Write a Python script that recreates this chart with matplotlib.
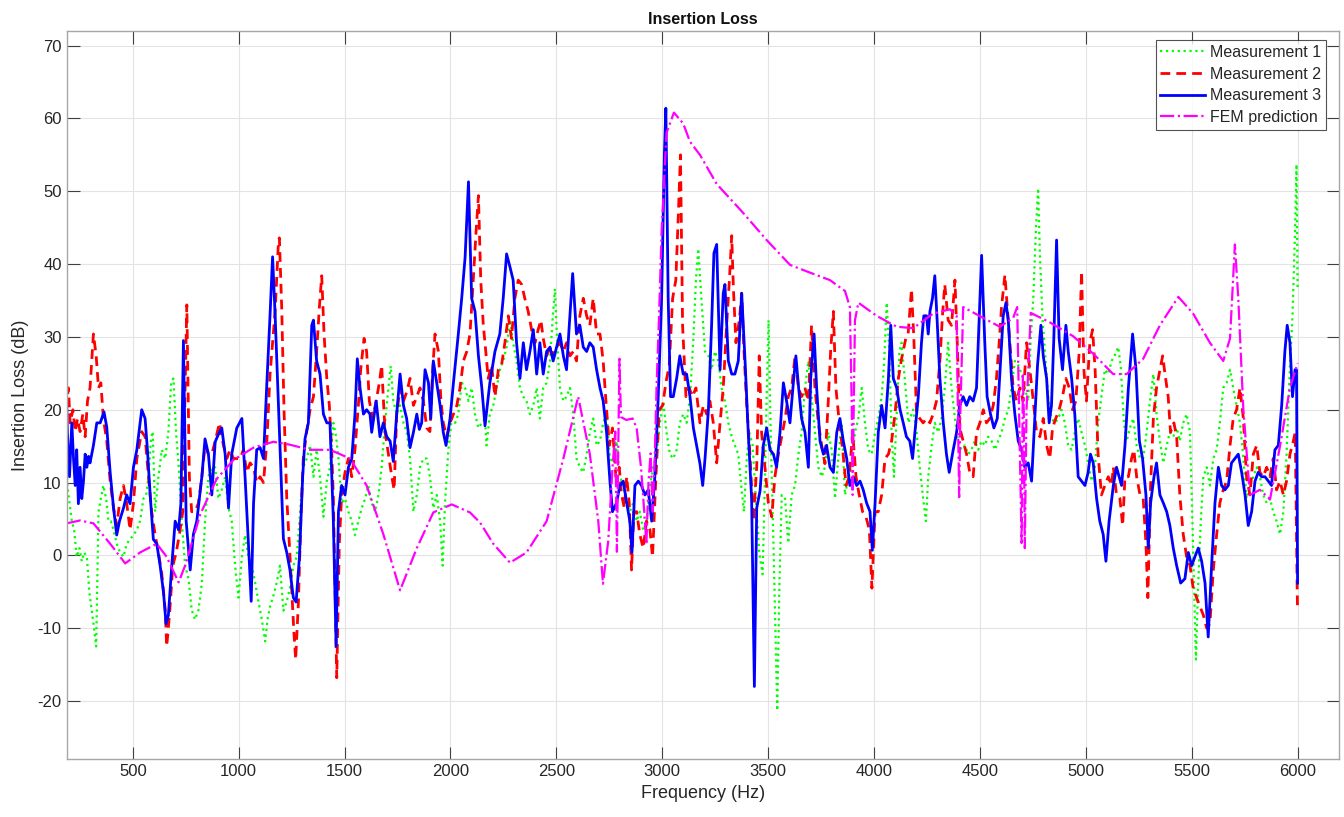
import matplotlib
matplotlib.use("Agg")
import matplotlib.pyplot as plt
import numpy as np

plt.rcParams['font.family'] = ['Liberation Sans', 'DejaVu Sans']
plt.rcParams['axes.unicode_minus'] = False

# ---------------- data ----------------
f_m1 = [185, 191, 201, 212, 223, 235, 248, 259, 270, 283, 295, 306, 317, 327, 338, 349, 361, 374, 385, 396,
        409, 424, 440, 456, 471, 487, 503, 519, 534, 550, 563, 574, 585, 594, 605, 621, 637, 653, 668, 681,
        692, 704, 717, 731, 747, 763, 778, 794, 810, 826, 841, 857, 873, 889, 904, 920, 936, 952, 967, 983,
        999, 1015, 1030, 1046, 1062, 1078, 1093, 1109, 1125, 1136, 1148, 1164, 1179, 1195, 1211, 1227, 1242,
        1258, 1274, 1290, 1305, 1321, 1337, 1353, 1368, 1384, 1400, 1416, 1431, 1447, 1460, 1471, 1486, 1502,
        1518, 1534, 1549, 1565, 1581, 1597, 1612, 1628, 1644, 1660, 1675, 1691, 1707, 1718, 1730, 1746, 1762,
        1778, 1793, 1809, 1825, 1841, 1856, 1872, 1888, 1903, 1919, 1935, 1951, 1963, 1974, 1990, 2006, 2022,
        2037, 2053, 2069, 2085, 2100, 2116, 2132, 2148, 2163, 2170, 2186, 2202, 2218, 2233, 2249, 2265, 2281,
        2296, 2312, 2328, 2344, 2359, 2375, 2391, 2407, 2422, 2438, 2454, 2470, 2482, 2493, 2504, 2517, 2533,
        2548, 2564, 2580, 2595, 2611, 2627, 2643, 2658, 2674, 2690, 2706, 2721, 2737, 2753, 2769, 2784, 2800,
        2816, 2832, 2847, 2863, 2879, 2894, 2910, 2926, 2942, 2957, 2973, 2989, 3005, 3020, 3036, 3052, 3068,
        3083, 3099, 3115, 3131, 3146, 3159, 3170, 3186, 3202, 3218, 3233, 3249, 3265, 3280, 3296, 3312, 3328,
        3343, 3359, 3375, 3386, 3399, 3411, 3427, 3443, 3458, 3474, 3485, 3493, 3502, 3512, 3525, 3537, 3543,
        3553, 3564, 3580, 3595, 3611, 3627, 3643, 3658, 3674, 3690, 3705, 3721, 3737, 3753, 3768, 3784, 3800,
        3816, 3831, 3847, 3863, 3879, 3894, 3910, 3926, 3942, 3957, 3973, 3989, 4005, 4020, 4036, 4047, 4060,
        4072, 4083, 4094, 4107, 4120, 4130, 4146, 4162, 4185, 4201, 4216, 4232, 4245, 4256, 4272, 4287, 4303,
        4319, 4334, 4350, 4366, 4382, 4397, 4413, 4429, 4445, 4460, 4476, 4492, 4508, 4523, 4539, 4555, 4571,
        4586, 4602, 4618, 4634, 4649, 4665, 4681, 4697, 4712, 4728, 4739, 4752, 4764, 4775, 4783, 4796, 4807,
        4822, 4838, 4854, 4870, 4886, 4901, 4917, 4933, 4948, 4964, 4980, 4996, 5011, 5027, 5043, 5058, 5074,
        5090, 5106, 5122, 5137, 5153, 5165, 5180, 5193, 5208, 5224, 5240, 5256, 5271, 5287, 5303, 5319, 5334,
        5350, 5366, 5382, 5397, 5413, 5429, 5444, 5460, 5476, 5492, 5505, 5520, 5530, 5543, 5555, 5571, 5586,
        5602, 5618, 5633, 5649, 5665, 5681, 5696, 5712, 5728, 5744, 5759, 5775, 5791, 5807, 5822, 5838, 5854,
        5870, 5885, 5901, 5917, 5933, 5948, 5964, 5976, 5988, 5995, 6000]
il_m1 = [13.9, 9.6, 7.2, 4.7, 3.5, -0.2, 1, -0.8, 0.4, -0.2, -5.1, -7.6, -10, -12.5, 6, 7.8, 9.6, 7.8, 4.7, 4.7,
         3.5, 1.6, 0.4, -0.2, 1.6, 2.2, 2.8, 3.5, 4.7, 7.8, 8.3, 10.8, 15.7, 17, 6, 10.8, 14.5, 13.3, 17, 23.7,
         24.3, 17, 12.1, 4.7, -1.4, -3.2, -7.5, -8.8, -7.5, -3.8, 4.7, 10.8, 12.1, 12.1, 7.8, 9, 10.8, 6.5, 4.7, -1.4,
         -5.8, -0.2, 2.8, -0.2, -1.4, -3.8, -6.3, -8.8, -11.8, -8.8, -7, -5.5, -3.8, -1.4, -7.6, -6.3, -4.5,
         -1.4, -0.2, 6, 12.1, 13.3, 15.1, 10.8, 14.5, 10.8, 5.3, 10.2, 12.1, 18.2, 16.3, 13.3, 7.2, 7.8,
         6, 4.7, 2.8, 4.7, 6.5, 7.8, 9.6, 7.2, 6, 8.3, 12.1, 18.2, 23, 26, 21.2, 19.4, 20.6,
         18.2, 17, 13.3, 6, 8.3, 12.1, 13.3, 13.3, 10.8, 6.5, 8.3, 4.7, -1.4, 7.2, 14.5, 18.8, 18.2,
         19.4, 23.7, 23, 21.2, 23, 19.4, 17.5, 18.2, 18.8, 15.1, 19.4, 20.6, 23, 25.5, 26.7, 28.6, 32.3,
         29.2, 26.7, 23, 21.8, 21.2, 19.4, 20.6, 23, 18.8, 23, 23.7, 26.7, 32.3, 36.6, 29.2, 23, 21.2,
         21.8, 23, 19.4, 13.3, 12.1, 11.4, 13.9, 16.9, 18.8, 15.1, 15.7, 18.2, 19.4, 13.3, 12.7, 15.7, 10.8,
         9.6, 7.2, 6, 7.2, 4.7, 6, 3.5, 4.7, 9.6, 12.1, 13.9, 18.2, 21.2, 16.9, 13.9, 13.3, 14.5,
         18.2, 19.4, 18.2, 21.8, 29.2, 37.8, 42.1, 34.7, 28, 27.4, 25.5, 28, 26.7, 23, 21.2, 18.2, 16.3,
         15.1, 13.9, 8.9, 6, 13.3, 16.9, 15.1, 7.2, 0.4, -2.6, 10.8, 21.8, 32.3, 16.9, 1.7, -13.7, -21.3,
         -4.5, 8.3, 7.8, 1.7, 8.3, 9.6, 13.9, 16.9, 23, 26.7, 21.8, 16.9, 12.1, 10.8, 12.1, 16.9, 14.5,
         7.8, 13.3, 18.2, 8.3, 10.8, 12.1, 16.9, 18.8, 23, 18.2, 14.5, 13.9, 16.9, 18.8, 21.8, 26.1, 34.7,
         28, 16.9, 10.8, 19.4, 28, 29.2, 24, 18.2, 20, 16.9, 12.1, 7.8, 4.7, 10.8, 15.1, 18.2, 16.9,
         18.8, 23, 29.2, 23, 18.8, 15.7, 14.5, 15.1, 13.9, 14.5, 15.7, 14.5, 15.7, 15.1, 16.3, 15.7, 14.5,
         15.7, 16.9, 18.8, 20, 23, 26.7, 26.1, 24.9, 23, 21.2, 29.2, 35.3, 44.5, 50.4, 41.5, 32.3, 28,
         21.8, 18.8, 18.2, 18.8, 20, 18.2, 15.1, 14.5, 16.9, 18.8, 16.9, 15.1, 12.7, 10.2, 12.1, 18.2, 21.8,
         25.5, 24.9, 26.7, 27.5, 28.6, 26, 18.2, 15.7, 17.5, 18.8, 15.1, 13.3, 13.3, 16.9, 21.2, 24.9, 19.4,
         15.7, 12.7, 15.1, 16.9, 16.3, 17.5, 15.7, 18.2, 19.4, 16.9, 3, -14.3, -4.5, 4.7, 10.8, 12.1, 9.6,
         13.3, 14.5, 18.2, 23, 23.7, 25.5, 23, 20.6, 18.2, 13.3, 7.8, 9.6, 10.8, 12.1, 10.8, 8.3, 7.2,
         7.8, 6, 4.7, 2.9, 6, 13.9, 26.1, 32.9, 44.5, 53.7, 36.6]

f_m2 = [185, 196, 204, 217, 228, 239, 251, 264, 275, 286, 298, 314, 327, 338, 349, 361, 377, 393, 409, 424,
        440, 456, 471, 487, 503, 519, 542, 558, 574, 589, 605, 621, 637, 653, 660, 673, 689, 705, 720, 736,
        747, 755, 767, 778, 794, 810, 826, 841, 857, 873, 889, 909, 928, 944, 959, 975, 991, 1007, 1022, 1038,
        1054, 1070, 1085, 1101, 1117, 1133, 1148, 1172, 1188, 1192, 1203, 1214, 1227, 1239, 1250, 1261, 1269,
        1282, 1293, 1305, 1321, 1337, 1353, 1368, 1381, 1392, 1403, 1416, 1428, 1439, 1447, 1455, 1463, 1475,
        1486, 1502, 1518, 1534, 1549, 1565, 1576, 1592, 1604, 1617, 1633, 1649, 1664, 1675, 1691, 1707, 1723,
        1734, 1746, 1762, 1778, 1793, 1809, 1825, 1841, 1856, 1872, 1888, 1903, 1916, 1927, 1943, 1955, 1966,
        1982, 1998, 2014, 2030, 2045, 2061, 2077, 2092, 2100, 2111, 2121, 2132, 2143, 2155, 2163, 2178, 2194,
        2210, 2226, 2241, 2257, 2273, 2288, 2304, 2320, 2336, 2351, 2367, 2383, 2399, 2414, 2427, 2438, 2454,
        2470, 2485, 2501, 2517, 2533, 2548, 2564, 2580, 2595, 2611, 2627, 2643, 2658, 2674, 2690, 2706, 2721,
        2734, 2750, 2765, 2781, 2797, 2808, 2821, 2832, 2844, 2855, 2866, 2879, 2894, 2910, 2926, 2942, 2954,
        2970, 2986, 3002, 3017, 3033, 3049, 3064, 3077, 3086, 3096, 3112, 3127, 3143, 3159, 3178, 3194, 3210,
        3225, 3241, 3257, 3273, 3288, 3304, 3317, 3328, 3336, 3348, 3364, 3375, 3386, 3399, 3414, 3430, 3446,
        3458, 3469, 3485, 3501, 3517, 3532, 3548, 3564, 3580, 3595, 3611, 3627, 3643, 3658, 3674, 3690, 3705,
        3721, 3737, 3753, 3768, 3784, 3795, 3808, 3820, 3836, 3852, 3868, 3883, 3899, 3915, 3930, 3946, 3962,
        3978, 3990, 4005, 4020, 4036, 4052, 4068, 4083, 4099, 4115, 4130, 4150, 4161, 4177, 4188, 4201, 4216,
        4232, 4248, 4264, 4279, 4295, 4311, 4323, 4334, 4350, 4366, 4382, 4393, 4405, 4421, 4437, 4452, 4468,
        4484, 4500, 4516, 4531, 4547, 4563, 4578, 4591, 4602, 4618, 4629, 4641, 4657, 4673, 4689, 4704, 4720,
        4736, 4752, 4767, 4783, 4799, 4815, 4830, 4843, 4858, 4874, 4890, 4906, 4922, 4937, 4953, 4969, 4980,
        4991, 5003, 5019, 5032, 5044, 5058, 5074, 5090, 5106, 5122, 5130, 5145, 5161, 5174, 5185, 5201, 5216,
        5227, 5240, 5256, 5271, 5284, 5293, 5306, 5319, 5334, 5350, 5363, 5374, 5389, 5400, 5416, 5429, 5444,
        5460, 5476, 5492, 5507, 5523, 5539, 5555, 5571, 5586, 5602, 5618, 5633, 5649, 5665, 5681, 5696, 5712,
        5728, 5744, 5759, 5775, 5791, 5807, 5822, 5838, 5854, 5870, 5885, 5901, 5917, 5933, 5948, 5964, 5980,
        5989, 5998, 6000]
il_m2 = [20, 23, 18.2, 20, 17, 18.8, 17, 19.4, 16.3, 21.2, 23, 30.4, 27.4, 23, 23.7, 18.8, 15.7, 10.2, 6.5, 4.1,
         7.8, 9.6, 7.2, 3.5, 7.2, 13.3, 17, 16.3, 10.8, 6, 2.9, 0.4, -2.6, -7.5, -12.5, -8.2, -1.4, 0.4, 2.9, 6,
         23, 34.4, 10.8, 6, 6, 7.2, 10.8, 15.1, 13.9, 13.9, 15.7, 18.2, 15.1, 13.3, 14.5, 13.3, 13.3, 13.3, 14.5, 11.4,
         12.7, 12.1, 10, 10.8, 10, 15.7, 24.9, 33.5, 43.3, 43.6, 34.1, 20, 7.8, 1.6, -4.5, -10.7, -14.3,
         -6.4, 4.7, 13.3, 17, 20, 21.8, 28, 34.1, 38.4, 30.4, 24.3, 20.6, 14.5, 7.8, -4.5, -16.8, 1.6,
         8.3, 11.4, 13.3, 10.8, 14.5, 20.6, 25.5, 29.8, 28, 21.2, 18.8, 21.2, 23.7, 26.1, 17, 13.9, 10.8,
         9, 19.4, 23, 21.2, 22.4, 24.3, 20.6, 21.8, 23, 21.2, 17.5, 17, 25.5, 30.4, 28, 21.2, 18.2,
         16.3, 18.2, 19.4, 20.6, 23, 26.7, 28, 30.4, 34.1, 39.6, 44.5, 49.4, 37.8, 31.6, 29.2, 24.3, 26.1,
         21.8, 25.5, 26.1, 29.2, 32.9, 29.8, 35.3, 37.8, 37.2, 35.3, 33.5, 31, 29.2, 31, 32.3, 29.8, 27.4,
         28.6, 27.4, 28.6, 29.2, 28, 29.2, 27.4, 28, 26.7, 32.9, 35.3, 32.9, 31.6, 35.3, 30.4, 30.4, 26.7,
         21.2, 15.1, 17.5, 10.8, 12.1, 8.3, 6.5, 10.8, 7.2, -2, 6, 6, 2.9, 1, 4.7, 3.5, -0.2,
         10.8, 20, 20.6, 23.7, 26.1, 35.3, 37.8, 47.6, 55, 31.6, 21.8, 23, 21.8, 23, 18.2, 20.6, 19.4,
         21.2, 18.2, 12.7, 18.2, 23, 31.6, 37.8, 43.9, 36.6, 29.2, 32.3, 36, 28, 20.6, 13.9, 4.7, 12.1,
         27.4, 16.9, 12.1, 7.2, 5.3, 10.8, 13.9, 16.3, 18.8, 21.8, 23, 27.4, 23, 21.8, 23, 21.2, 31.6,
         23, 18.2, 15.1, 12.6, 21.2, 28, 33.5, 23, 18.2, 14.5, 9.6, 10.8, 16.9, 10.8, 8.3, 6, 5.3,
         3.5, -4.5, 6, 6, 8.3, 13.3, 13.9, 15.7, 19.4, 24.3, 27, 29.8, 30.4, 36.6, 29.8, 19.4, 18.8,
         18.2, 18.8, 18.2, 19.4, 21.2, 26.7, 32.9, 37.2, 32.3, 31.6, 37.8, 29.2, 17.5, 15.7, 13.9, 11.4, 10.8,
         16.9, 18.2, 20, 18.2, 18.8, 20.6, 24.3, 29.2, 34.1, 38.5, 34.1, 29.2, 23, 21.2, 23, 21.2, 29.2,
         25.5, 21.2, 17, 16.3, 18.8, 15.1, 13.3, 17.5, 18.8, 20, 21.8, 24.3, 23, 20, 21.2, 28, 39,
         25.5, 21.2, 29.2, 31, 25.5, 13.9, 8.3, 9.6, 10.8, 9.6, 12.1, 8.3, 7.8, 4.1, 10.8, 10.8, 13.3,
         14.5, 10.8, 8.3, 7.8, 1.6, -5.8, 9.6, 18.8, 23, 25.5, 27.4, 24.9, 21.8, 16.9, 18.2, 16.3, 8.3,
         2.9, -0.2, -1.4, -4.5, -5.8, -7, -8.2, -10, -9.4, -2, 2.9, 7.2, 9, 10.2, 15.1, 18.8, 20,
         23, 18.8, 10.8, 8.3, 13.9, 15.1, 11.4, 10.8, 12.1, 10.8, 13.3, 9, 10.2, 8.3, 10.2, 13.9, 15.7,
         16.9, -4.5, -7.6]

f_m3 = [185, 191, 201, 212, 220, 228, 235, 243, 251, 259, 267, 275, 283, 291, 298, 314, 330, 346, 364, 377,
        393, 409, 424, 437, 456, 471, 487, 503, 519, 542, 558, 569, 582, 597, 613, 629, 645, 657, 668, 684,
        700, 716, 727, 739, 752, 771, 786, 802, 826, 841, 857, 873, 889, 904, 920, 936, 952, 967, 991, 1015,
        1030, 1046, 1059, 1070, 1085, 1101, 1117, 1133, 1148, 1160, 1172, 1195, 1211, 1227, 1242, 1258, 1271,
        1287, 1302, 1313, 1329, 1345, 1353, 1368, 1384, 1400, 1416, 1431, 1447, 1460, 1471, 1486, 1502, 1518,
        1534, 1549, 1560, 1573, 1589, 1604, 1620, 1628, 1649, 1667, 1683, 1699, 1715, 1730, 1746, 1762, 1778,
        1793, 1809, 1825, 1841, 1853, 1864, 1880, 1896, 1907, 1919, 1935, 1951, 1966, 1979, 1998, 2014, 2037,
        2053, 2069, 2085, 2100, 2116, 2132, 2148, 2163, 2186, 2210, 2233, 2249, 2265, 2281, 2296, 2312, 2328,
        2344, 2359, 2375, 2391, 2407, 2422, 2438, 2454, 2470, 2485, 2501, 2517, 2533, 2548, 2561, 2577, 2595,
        2611, 2627, 2643, 2658, 2674, 2690, 2706, 2721, 2737, 2753, 2765, 2784, 2800, 2816, 2832, 2847, 2857,
        2871, 2887, 2902, 2918, 2934, 2950, 2965, 2981, 2997, 3010, 3017, 3028, 3039, 3052, 3068, 3083, 3099,
        3115, 3131, 3147, 3162, 3178, 3191, 3202, 3218, 3233, 3244, 3257, 3273, 3288, 3296, 3312, 3328, 3343,
        3359, 3375, 3391, 3406, 3422, 3435, 3446, 3462, 3477, 3493, 3509, 3525, 3540, 3556, 3572, 3587, 3603,
        3619, 3631, 3644, 3658, 3674, 3690, 3701, 3717, 3729, 3745, 3761, 3776, 3792, 3808, 3824, 3839, 3855,
        3871, 3886, 3902, 3918, 3934, 3949, 3965, 3981, 3992, 4005, 4020, 4036, 4052, 4068, 4079, 4091, 4107,
        4123, 4138, 4153, 4169, 4182, 4193, 4209, 4224, 4235, 4248, 4256, 4264, 4276, 4287, 4298, 4311, 4327,
        4342, 4355, 4374, 4390, 4405, 4421, 4437, 4452, 4468, 4484, 4500, 4508, 4523, 4534, 4550, 4566, 4582,
        4594, 4610, 4623, 4634, 4649, 4665, 4681, 4697, 4712, 4728, 4744, 4756, 4772, 4788, 4799, 4815, 4827,
        4838, 4849, 4862, 4874, 4890, 4906, 4917, 4933, 4948, 4964, 4980, 4996, 5011, 5022, 5035, 5051, 5066,
        5082, 5095, 5110, 5130, 5145, 5169, 5185, 5201, 5221, 5237, 5253, 5268, 5284, 5295, 5306, 5322, 5334,
        5350, 5366, 5382, 5397, 5413, 5429, 5448, 5468, 5484, 5500, 5515, 5531, 5547, 5563, 5578, 5594, 5610,
        5626, 5641, 5657, 5673, 5688, 5704, 5720, 5736, 5752, 5767, 5783, 5799, 5814, 5830, 5846, 5862, 5877,
        5893, 5909, 5925, 5940, 5951, 5964, 5976, 5988, 5995, 6000]
il_m3 = [24.3, 16.9, 10.8, 18.2, 13.3, 9.6, 14.5, 7.1, 12.1, 7.8, 10.2, 13.9, 12.1, 13.6, 12.7, 15.1, 18.2, 18.2, 19.7, 17.6,
         11.4, 6.5, 2.8, 4.7, 6.5, 8.3, 7.1, 12.1, 14.5, 20, 18.8, 14.5, 8.3, 2.2, 1.6, -1.4, -5.1, -9.4, -8.2, -1.4,
         4.7, 3.5, 7.1, 29.5, 4.7, -2, 2.9, 4.7, 10.8, 16, 13.9, 8.3, 15.6, 16.6, 17.5, 13.9, 6.5, 13.9, 17.5, 18.8,
         10.8, 1.6, -6.3, 7.1, 14.5, 14.8, 13.3, 23.7, 33, 41, 33, 15.1, 2.3, 0.4, -2, -5.8, -6.4,
         -0.2, 10.8, 16, 18.2, 31.6, 32.3, 26.7, 24.9, 19.4, 18.2, 18.2, 4.7, -12.5, 6, 9.6, 8.3, 12.1,
         13.3, 19.4, 27, 23, 19.4, 20, 19.4, 16.9, 21.2, 16.3, 18.2, 16.3, 15.7, 12.9, 19.4, 24.9, 20.6,
         18.8, 14.8, 16.9, 19.4, 17.3, 18.2, 25.5, 23.7, 18.8, 26.7, 23.7, 20.6, 16.9, 15.1, 18.8, 23.7, 30.4,
         35.3, 40.9, 51.3, 35.3, 33.5, 27.4, 23, 17.8, 23.7, 28, 30.4, 35.3, 41.4, 39.6, 37.8, 29.2, 24.3,
         29.2, 25.5, 28, 31, 24.9, 29.2, 24.9, 28, 28.6, 26.7, 28.6, 30.4, 27.4, 25.5, 31.6, 38.7, 30.4,
         31.6, 28.6, 28, 29.2, 28.6, 25.5, 23, 21.2, 16.9, 10.2, 6, 7.2, 9.6, 10.2, 7.2, 4.7, 0.4,
         9.6, 10.2, 9.6, 8.3, 9, 4.7, 10.8, 21.8, 35.3, 55, 61.4, 35.3, 21.8, 21.8, 24.3, 27.4, 24.9,
         24.9, 21.8, 17.5, 15.1, 12.6, 9.6, 13.3, 20, 31.6, 41.5, 42.7, 25.5, 36, 37.2, 26.7, 24.9, 24.9,
         26.7, 36, 26.7, 16.9, 7.8, -18, 6.5, 8.9, 15.1, 17.5, 14.5, 13.9, 12.1, 16.9, 23.7, 21.2, 18.2,
         23.7, 27.4, 23, 18.8, 16.9, 12.1, 24.3, 30.4, 23, 15.7, 13.9, 15.1, 12.1, 11.4, 16.9, 18.8, 15.7,
         13.3, 9.6, 10.8, 9.6, 10.2, 9, 7.2, 6, 0.7, 7.2, 16.9, 20.6, 17.5, 24.3, 31.6, 24.3, 23,
         20, 18.2, 16.3, 15.7, 13.3, 16.9, 21.8, 29.2, 32.9, 32.9, 30.4, 33.5, 35.3, 38.4, 32.3, 24.3, 18.2,
         13.9, 11.4, 14.5, 16.9, 20.6, 21.8, 20.6, 21.8, 21.2, 23, 35.3, 41.2, 29.2, 21.8, 19.4, 17.5, 18.8,
         24.9, 32.9, 34.7, 32.3, 24.3, 19.4, 15.7, 14.5, 12.1, 12.7, 10.2, 16.9, 26.1, 31.6, 27.4, 24.3, 18.2,
         20.6, 29.8, 43.3, 29.8, 25.5, 31.6, 28, 24.3, 19.4, 10.8, 10.2, 9.6, 11.4, 13.9, 12.7, 7.8, 4.7,
         2.9, -0.8, 4.7, 9.6, 12.1, 9.6, 15.1, 23, 30.4, 25.5, 15.7, 13.3, 8.3, 1, 7.2, 10.8, 12.7,
         8.3, 7.2, 6, 4.1, 1, -1.4, -3.8, -3.2, 0.4, -1.4, -0.2, 1, -0.8, -3.8, -11.2, -1.4, 7.2,
         12.1, 9.6, 9, 9.6, 12.7, 13.3, 13.9, 11.4, 8.3, 4.1, 6, 10.2, 11.4, 10.8, 10.8, 10.2, 9.6,
         14.5, 15.1, 20.6, 28, 31.6, 29.2, 21.8, 25.5, 25.5, -3.8]

f_fem = [188, 251, 314, 393, 464, 534, 613, 660, 716, 747, 818, 896, 975, 1070, 1164, 1242, 1337, 1431, 1526,
         1604, 1683, 1762, 1841, 1919, 2006, 2092, 2140, 2202, 2281, 2359, 2454, 2533, 2603, 2658, 2698, 2720,
         2745, 2765, 2778, 2786, 2792, 2798, 2805, 2830, 2860, 2879, 2900, 2915, 2925, 2935, 2945, 2955, 2965,
         2973, 2985, 2997, 3020, 3055, 3099, 3131, 3178, 3257, 3383, 3493, 3603, 3682, 3792, 3863, 3886, 3895,
         3899, 3904, 3910, 3926, 4012, 4107, 4185, 4279, 4358, 4390, 4396, 4402, 4408, 4421, 4516, 4594, 4657,
         4676, 4688, 4697, 4703, 4707, 4712, 4720, 4740, 4830, 4940, 5035, 5129, 5193, 5271, 5350, 5437, 5507,
         5586, 5649, 5681, 5704, 5720, 5744, 5775, 5822, 5870, 5917, 5964, 6000]
il_fem = [4.4, 4.8, 4.4, 1.6, -1.1, 0.4, 1.6, -0.2, -3.7, -1.4, 5.6, 10.5, 13.1, 14.8, 15.6, 15.2, 14.5, 14.5, 13.3,
          9.6, 2.9, -4.8, 1.0, 5.9, 7.0, 5.9, 4.5, 1.6, -1.0, 0.4, 4.7, 13.3, 21.8, 13.9, 4.7, -3.9,
          2, 12, 17, 0.5, 14, 27, 19, 18.6, 18.8, 17.5, 12, 6, 1.5, 10, 14, 6, 14,
          23, 33, 44.5, 58, 60.8, 59.3, 56.8, 55, 51, 47, 43.3, 39.9, 39, 37.8, 36.3, 34.1, 20,
          8.3, 20, 32.3, 34.7, 32.9, 31.4, 31.2, 33.2, 33.8, 32.9, 20, 8, 20, 34.1, 32.6, 31.4, 32.6,
          34.1, 15, 1.7, 25, 20, 1, 20, 33.3, 32, 30.1, 27.7, 24.9, 24.9, 27, 31.6, 35.5, 33.2,
          29.2, 26.7, 29.8, 42.7, 35.3, 20, 8.3, 9, 7.7, 15, 23, 26.4]

labels = ['Measurement 1', 'Measurement 2', 'Measurement 3', 'FEM prediction']
x_ticks = list(range(500, 6001, 500))
y_ticks = list(range(-20, 71, 10))

# ---------------- figure ----------------
fig = plt.figure(figsize=(13.44, 8.17), dpi=100)
ax = fig.add_axes([0.0495, 0.0706, 0.947, 0.8914])

ax.plot(f_m1, il_m1, linestyle=':', color=(0, 1, 0), lw=1.6, label=labels[0])
ax.plot(f_m2, il_m2, linestyle='--', color=(1, 0, 0), lw=2.0, label=labels[1], dashes=(3.5, 2.2))
ax.plot(f_m3, il_m3, linestyle='-', color=(0, 0, 1), lw=2.0, label=labels[2])
ax.plot(f_fem, il_fem, linestyle='-.', color=(1, 0, 1), lw=1.6, label=labels[3])

ax.set_xlim(187, 6197)
ax.set_ylim(-28, 72)
ax.set_xticks(x_ticks)
ax.set_yticks(y_ticks)

ax.grid(True, color='#e3e3e3', lw=0.8)
ax.set_axisbelow(True)
for s in ax.spines.values():
    s.set_color('#a6a6a6')
    s.set_linewidth(1.0)
ax.tick_params(direction='in', length=9, width=0.8, color='#404040',
               top=True, right=True, labelsize=12, labelcolor='#262626')

ax.set_title('Insertion Loss', fontsize=11.5, fontweight='bold', pad=5, color='#111111')
ax.set_xlabel('Frequency (Hz)', fontsize=13, color='#262626', labelpad=4)
ax.set_ylabel('Insertion Loss (dB)', fontsize=13, color='#262626', labelpad=6)

leg = ax.legend(loc='upper right', bbox_to_anchor=(0.9894, 0.9877), fontsize=11.5,
                frameon=True, fancybox=False,
                borderaxespad=0.0, handlelength=2.8, handletextpad=0.3,
                labelspacing=0.42, borderpad=0.3)
leg.get_frame().set_edgecolor('#262626')
leg.get_frame().set_linewidth(0.8)
for t in leg.get_texts():
    t.set_color('#262626')

fig.savefig('out.png', dpi=100)
